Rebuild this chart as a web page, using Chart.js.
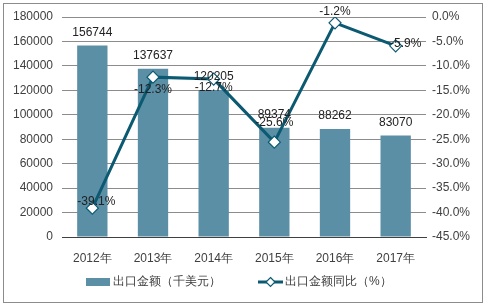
<!DOCTYPE html>
<html>
<head>
<meta charset="utf-8">
<script src="https://cdn.jsdelivr.net/npm/chart.js@4"></script>
<style>
  html, body { margin: 0; padding: 0; background: #fff; }
  #wrap { width: 486px; height: 306px; position: relative; }
</style>
</head>
<body>
<div id="wrap"><canvas id="chart" width="486" height="306"></canvas></div>
<script>
var years = ['2012年', '2013年', '2014年', '2015年', '2016年', '2017年'];
var exportValue = [156744, 137637, 120205, 89374, 88262, 83070]; // 千美元
var exportGrowth = [-39.1, -12.3, -12.7, -25.6, -1.2, -5.9]; // %

var barColor = '#5b8fa6';
var lineColor = '#0b5a72';
var textColor = '#404040';
var font = "'Liberation Sans', Arial, sans-serif";

// label offsets for the line labels (dx, dy from the point), like the excel placement
var lineLabelShift = [[4, -6], [0, 13], [0, 9], [0, -19], [0, -11], [10, -2]];

var labelsPlugin = {
  id: 'labels',
  afterDatasetsDraw: function (chart) {
    var ctx = chart.ctx;
    ctx.save();
    ctx.font = '12px ' + font;
    ctx.fillStyle = '#222';
    ctx.textAlign = 'center';
    ctx.textBaseline = 'middle';
    chart.getDatasetMeta(0).data.forEach(function (bar, i) {
      ctx.fillText(exportValue[i], bar.x, bar.y - 13);
    });
    chart.getDatasetMeta(1).data.forEach(function (pt, i) {
      var s = lineLabelShift[i];
      ctx.fillText(exportGrowth[i].toFixed(1) + '%', pt.x + s[0], pt.y + s[1]);
    });
    ctx.restore();
  },
  afterDraw: function (chart) {
    var ctx = chart.ctx;
    ctx.save();
    // outer frame
    ctx.strokeStyle = '#8c8c8c';
    ctx.lineWidth = 1;
    ctx.strokeRect(3.5, 3.5, 479, 299);
    // legend
    var y = 282;
    ctx.fillStyle = barColor;
    ctx.fillRect(86, y - 4, 24, 8);
    ctx.strokeStyle = lineColor;
    ctx.lineWidth = 3;
    ctx.beginPath();
    ctx.moveTo(258, y);
    ctx.lineTo(283, y);
    ctx.stroke();
    ctx.lineWidth = 1.2;
    ctx.fillStyle = '#fff';
    ctx.beginPath();
    ctx.moveTo(270.5, y - 4.5);
    ctx.lineTo(275, y);
    ctx.lineTo(270.5, y + 4.5);
    ctx.lineTo(266, y);
    ctx.closePath();
    ctx.fill();
    ctx.stroke();
    ctx.fillStyle = textColor;
    ctx.font = '12px ' + font;
    ctx.textAlign = 'left';
    ctx.textBaseline = 'middle';
    ctx.fillText('出口金额（千美元）', 113, y);
    ctx.fillText('出口金额同比（%）', 285, y);
    ctx.restore();
  }
};

var config = {
  data: {
    labels: years,
    datasets: [{
      type: 'bar',
      label: '出口金额（千美元）',
      data: exportValue,
      backgroundColor: barColor,
      barPercentage: 0.5,
      categoryPercentage: 1,
      yAxisID: 'y',
      order: 2
    }, {
      type: 'line',
      label: '出口金额同比（%）',
      data: exportGrowth,
      borderColor: lineColor,
      borderWidth: 3,
      tension: 0,
      pointStyle: 'rectRot',
      pointRadius: 6,
      pointBackgroundColor: '#fff',
      pointBorderColor: lineColor,
      pointBorderWidth: 1.2,
      yAxisID: 'y1',
      order: 1
    }]
  },
  options: {
    responsive: false,
    animation: false,
    events: [],
    layout: { padding: { top: 17, bottom: 0, left: 0, right: 0 } },
    plugins: {
      legend: { display: false },
      tooltip: { enabled: false }
    },
    scales: {
      x: {
        grid: { display: false },
        border: { display: true, color: '#404040', width: 1 },
        ticks: { color: textColor, font: { family: font, size: 12 }, padding: 6 },
        afterFit: function (s) { s.height = 69; }
      },
      y: {
        position: 'left',
        min: 0, max: 180000,
        ticks: {
          stepSize: 20000, color: textColor, font: { family: font, size: 12 }, padding: 9,
          callback: function (v) { return String(v); }
        },
        grid: { color: '#8c8c8c', drawTicks: false },
        border: { display: false },
        afterFit: function (s) { s.width = 62; }
      },
      y1: {
        position: 'right',
        min: -45, max: 0,
        ticks: {
          stepSize: 5, color: textColor, font: { family: font, size: 12 }, padding: 6,
          callback: function (v) { return v.toFixed(1) + '%'; }
        },
        grid: { display: false, drawTicks: false },
        border: { display: false },
        afterFit: function (s) { s.width = 60; }
      }
    }
  },
  plugins: [labelsPlugin]
};

window.onload = function () {
  var ctx = document.getElementById('chart').getContext('2d');
  window.myChart = new Chart(ctx, config);
};
</script>
</body>
</html>
